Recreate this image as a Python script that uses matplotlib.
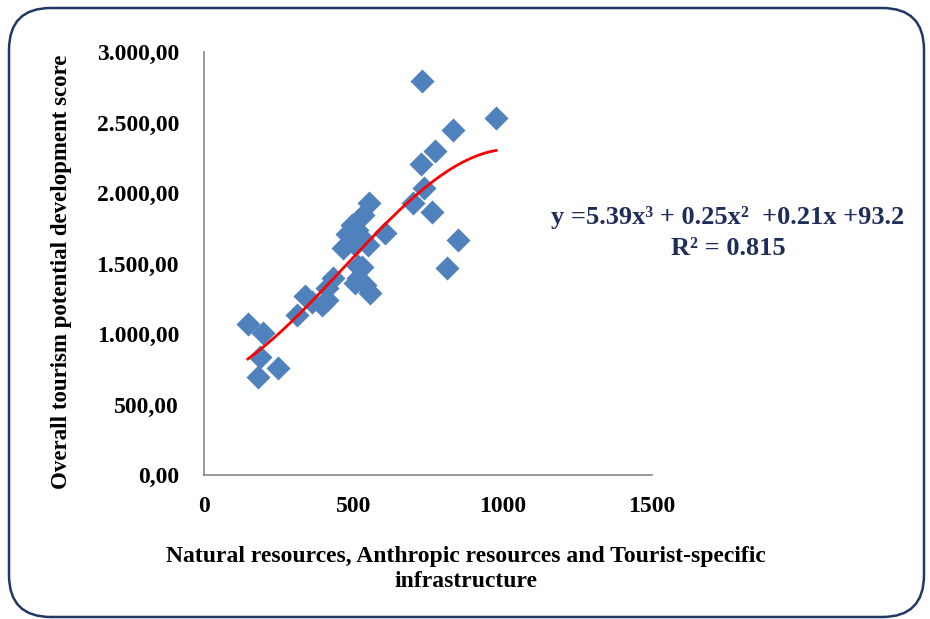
import numpy as np
import matplotlib
matplotlib.use("Agg")
import matplotlib.pyplot as plt
from matplotlib.patches import FancyBboxPatch
from matplotlib.ticker import FuncFormatter

# Data
x_vals = [147, 198, 187, 181, 248, 311, 338, 362, 395, 412, 412, 432, 465, 479,
          495, 512, 506, 532, 552, 529, 549, 606, 516, 529, 539, 556, 506, 737,
          700, 763, 727, 773, 834, 978, 730, 850, 814, 515]
y_vals = [1071, 1007, 837, 695, 759, 1135, 1270, 1227, 1206, 1241, 1326, 1397,
          1610, 1709, 1773, 1738, 1631, 1844, 1929, 1681, 1631, 1716, 1397, 1475,
          1348, 1291, 1362, 2035, 1929, 1865, 2206, 2298, 2447, 2532, 2794, 1667,
          1468, 1480]
x_ticks = [0, 500, 1000, 1500]
y_ticks = [0, 500, 1000, 1500, 2000, 2500, 3000]
eq_line1 = "y =5.39x\u00b3 + 0.25x\u00b2  +0.21x +93.2"
eq_line2 = "R\u00b2 = 0.815"
x_label = "Natural resources, Anthropic resources and Tourist-specific\ninfrastructure"
y_label = "Overall tourism potential development score"

plt.rcParams['font.family'] = ['Liberation Serif', 'DejaVu Serif']

fig = plt.figure(figsize=(9.3, 6.19), dpi=100)
fig.patch.set_facecolor('white')

border = FancyBboxPatch((9 / 930, 2 / 619), 915 / 930, 609 / 619,
                        boxstyle="round,pad=0,rounding_size=0.045",
                        transform=fig.transFigure, fill=False,
                        edgecolor='#1F3864', linewidth=1.8, mutation_aspect=930 / 619)
fig.patches.append(border)

ax = fig.add_axes([204 / 930, (619 - 475) / 619, 448 / 930, 423 / 619])
ax.scatter(x_vals, y_vals, marker='D', s=150, color='#4F81BD', zorder=3, linewidths=0)

coef = np.polyfit(x_vals, y_vals, 3)
xx = np.linspace(min(x_vals), max(x_vals), 200)
ax.plot(xx, np.polyval(coef, xx), color='#FF0000', linewidth=2, zorder=4)

ax.set_xlim(0, 1500)
ax.set_ylim(0, 3000)
ax.set_xticks(x_ticks)
ax.set_yticks(y_ticks)

def fmt(v, pos):
    s = f"{v:,.2f}"
    return s.replace(",", "X").replace(".", ",").replace("X", ".")

ax.yaxis.set_major_formatter(FuncFormatter(fmt))
ax.tick_params(length=0, labelsize=17)
ax.tick_params(axis='y', pad=18)
ax.tick_params(axis='x', pad=15)
for lab in ax.get_xticklabels() + ax.get_yticklabels():
    lab.set_fontweight('bold')

for side in ['top', 'right']:
    ax.spines[side].set_visible(False)
for side in ['left', 'bottom']:
    ax.spines[side].set_color('#888888')
    ax.spines[side].set_linewidth(1.2)

fig.text(466 / 930, 1 - 569 / 619, x_label, ha='center', va='center',
         fontsize=17, fontweight='bold', linespacing=1.3)
fig.text(62 / 930, 1 - 272 / 619, y_label, ha='center', va='center',
         rotation=90, fontsize=16.5, fontweight='bold')

fig.text(728 / 930, 1 - 218 / 619, eq_line1, ha='center', va='center',
         fontsize=19, fontweight='bold', color='#1F2D5A')
fig.text(728 / 930, 1 - 248 / 619, eq_line2, ha='center', va='center',
         fontsize=19, fontweight='bold', color='#1F2D5A')

fig.savefig("out.png", dpi=100, facecolor='white')
